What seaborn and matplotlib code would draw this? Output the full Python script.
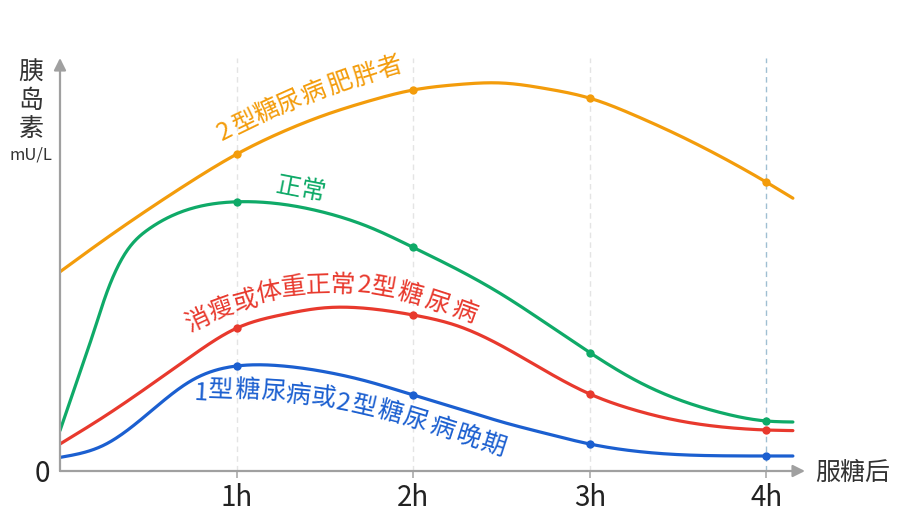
import numpy as np
import pandas as pd
import matplotlib
matplotlib.use("Agg")
import matplotlib.pyplot as plt
import seaborn as sns

# values (hours after glucose load, insulin in chart units)
hours = [0, 0.25, 0.5, 0.75, 1, 1.25, 1.5, 1.75, 2, 2.25, 2.5, 2.75, 3, 3.25, 3.5, 3.75, 4, 4.15]
obese_t2 = [49.8, 57.8, 65.4, 72.6, 79.2, 84.6, 89.0, 92.5, 95.25, 96.6, 97.0, 95.6,
            93.2, 89.0, 84.0, 78.4, 72.2, 68.2]
lean_t2 = [6.75, 13.6, 21.1, 28.9, 35.7, 39.0, 40.8, 40.6, 39.0, 36.3, 31.3, 25.0,
           19.25, 15.3, 12.6, 11.0, 10.25, 10.1]
late_t1 = [3.4, 6.5, 14.4, 22.75, 26.25, 26.3, 24.8, 22.3, 19.0, 15.7, 12.3, 9.4,
           6.75, 5.0, 4.1, 3.8, 3.75, 3.75]

normal_hours = [0, 0.1, 0.2, 0.25, 0.375, 0.5, 0.75, 1, 1.25, 1.5, 1.75, 2, 2.25, 2.5,
                2.75, 3, 3.25, 3.5, 3.75, 4, 4.15]
normal = [10.1, 23.0, 36.0, 42.75, 54.8, 60.4, 65.7, 67.3, 66.75, 64.6, 61.0, 55.9,
          50.4, 44.2, 37.0, 29.6, 22.9, 17.9, 14.5, 12.5, 12.25]

tick_hours = [1, 2, 3, 4]
tick_labels = ["1h", "2h", "3h", "4h"]

C_ORANGE = "#f39c0b"
C_GREEN = "#0faa68"
C_RED = "#e8392d"
C_BLUE = "#1b5fd0"

# label layout: (char, x_px, y_px, angle)
lbl_obese = list(zip("2型糖尿病肥胖者",
                     [225, 246, 267, 289, 313, 340, 365, 390],
                     [132, 122, 112, 103, 93, 83, 76, 68],
                     [27, 26, 25, 24, 22, 20, 18, 17]))
lbl_normal = list(zip("正常", [288, 313], [187, 192], [-11, -11]))
lbl_lean = list(zip("消瘦或体重正常2型糖尿病",
                    [198, 221, 245, 269, 293, 318, 343, 364, 384, 410, 437, 464],
                    [321, 309, 301, 293, 288, 285, 285, 286, 288, 295, 303, 312],
                    [25, 20, 15, 11, 6, 2, -2, -5, -10, -15, -18, -20]))
lbl_late = list(zip("1型糖尿病或2型糖尿病晚期",
                    [201, 221, 247, 273, 298, 323, 343, 364, 390, 415, 442, 468, 493],
                    [393, 390, 390, 392, 395, 398, 403, 407, 413, 420, 428, 437, 445],
                    [-3, -2, -2, -4, -6, -8, -11, -13, -15, -17, -18, -18, -18]))


def smooth(x, y, n=30):
    # natural cubic spline through the read values, only used to draw the line smoothly
    x = np.asarray(x, float)
    y = np.asarray(y, float)
    m = len(x)
    h = np.diff(x)
    A = np.zeros((m, m))
    b = np.zeros(m)
    A[0, 0] = A[-1, -1] = 1
    for i in range(1, m - 1):
        A[i, i - 1] = h[i - 1]
        A[i, i] = 2 * (h[i - 1] + h[i])
        A[i, i + 1] = h[i]
        b[i] = 6 * ((y[i + 1] - y[i]) / h[i] - (y[i] - y[i - 1]) / h[i - 1])
    M = np.linalg.solve(A, b)
    xs, ys = [], []
    for k in range(m - 1):
        t = np.linspace(x[k], x[k + 1], n, endpoint=False)
        a = x[k + 1] - t
        c = t - x[k]
        v = (M[k] * a**3 + M[k + 1] * c**3) / (6 * h[k]) \
            + (y[k] / h[k] - M[k] * h[k] / 6) * a \
            + (y[k + 1] / h[k] - M[k + 1] * h[k] / 6) * c
        xs.append(t)
        ys.append(v)
    xs.append([x[-1]])
    ys.append([y[-1]])
    return np.concatenate(xs), np.concatenate(ys)


sns.set_theme(style="white")
plt.rcParams["font.family"] = ["Noto Sans CJK SC", "DejaVu Sans"]

W, H = 901, 525
fig = plt.figure(figsize=(W / 100, H / 100), dpi=100)
ax = fig.add_axes([60 / W, (H - 471) / H, (805 - 60) / W, (471 - 58) / H])
ax.set_xlim(0, 745 / 176.6)
ax.set_ylim(0, 413 / 4)

for h_ in tick_hours:
    ax.axvline(h_, color="#9fbfd2" if h_ == 4 else "#e4e4e4", lw=1,
               ls=(0, (4, 3)), zorder=0)

series = [
    (hours, obese_t2, C_ORANGE),
    (normal_hours, normal, C_GREEN),
    (hours, lean_t2, C_RED),
    (hours, late_t1, C_BLUE),
]
for xs, ys, col in series:
    sx, sy = smooth(xs, ys)
    sns.lineplot(x=sx, y=sy, color=col, linewidth=2.3, ax=ax, sort=False,
                 estimator=None, zorder=3)
    df = pd.DataFrame({"h": xs, "v": ys})
    df = df[df["h"].isin(tick_hours)]
    sns.scatterplot(data=df, x="h", y="v", color=col, s=36, linewidth=0,
                    ax=ax, zorder=4)

for s in ax.spines.values():
    s.set_visible(False)

ax.set_xticks(tick_hours)
ax.set_xticklabels(tick_labels)
ax.set_yticks([0])
ax.set_yticklabels(["0"])
ax.tick_params(axis="x", length=5, width=1.2, color="#aaaaaa", pad=4,
               labelsize=20, labelcolor="#222222", bottom=True)
ax.tick_params(axis="y", length=0, pad=7, labelsize=20, labelcolor="#222222")
ax.set_xlabel("")
ax.set_ylabel("")
ax.grid(False)

arrow = dict(arrowstyle="-|>", color="#a0a0a0", lw=1.6, mutation_scale=18,
             shrinkA=0, shrinkB=0)
ax.annotate("", xy=(1, 0), xytext=(0, 0), xycoords="axes fraction",
            textcoords="axes fraction", arrowprops=arrow, annotation_clip=False)
ax.annotate("", xy=(0, 1), xytext=(0, 0), xycoords="axes fraction",
            textcoords="axes fraction", arrowprops=arrow, annotation_clip=False)


def px_text(x, y, s, **kw):
    fig.text(x / W, 1 - y / H, s, ha="center", va="center", **kw)


px_text(853, 473, "服糖后", fontsize=18, color="#333333")
for ch, y in zip("胰岛素", [73, 101, 129]):
    px_text(31, y, ch, fontsize=18, color="#333333")
px_text(31, 155, "mU/L", fontsize=12, color="#333333")

for lbl, col in [(lbl_obese, C_ORANGE), (lbl_normal, C_GREEN),
                 (lbl_lean, C_RED), (lbl_late, C_BLUE)]:
    for ch, x, y, a in lbl:
        px_text(x, y, ch, fontsize=18, color=col, rotation=a,
                rotation_mode="anchor")

fig.savefig("out.png", dpi=100)
